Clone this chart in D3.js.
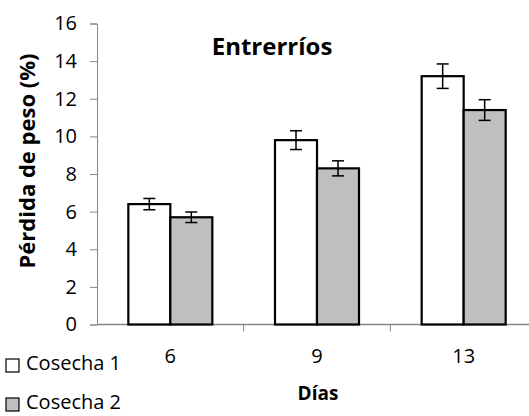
<!DOCTYPE html>
<html>
<head>
<meta charset="utf-8">
<script src="https://cdn.jsdelivr.net/npm/d3@7/dist/d3.min.js"></script>
<style>
  html, body { margin: 0; padding: 0; background: #fff; }
  svg { display: block; font-family: "Open Sans", sans-serif; }
</style>
</head>
<body>
<svg id="chart" width="529" height="416"></svg>
<script>
// Weight loss (%) per storage day, two harvests
const dias = ["6", "9", "13"];
const series = ["Cosecha 1", "Cosecha 2"];
const cosecha1 = [6.4, 9.8, 13.2];
const cosecha2 = [5.7, 8.3, 11.4];
const error1 = [0.3, 0.5, 0.65];
const error2 = [0.28, 0.4, 0.55];
const yTicks = [0, 2, 4, 6, 8, 10, 12, 14, 16];
const fills = ["#ffffff", "#bfbfbf"];

const values = [cosecha1, cosecha2];
const errors = [error1, error2];

const svg = d3.select("#chart");
const axisColor = "#868686";

const y = d3.scaleLinear().domain([0, 16]).range([324.5, 23.5]);
const x0 = d3.scaleBand().domain(dias).range([97, 537])
  .paddingInner(0.4273).paddingOuter(0.2136);
const x1 = d3.scaleBand().domain(series).range([0, x0.bandwidth()]);
const step = x0.step();

// Y axis
const yAxis = svg.append("g").attr("transform", "translate(97,0)")
  .call(d3.axisLeft(y).tickValues(yTicks).tickSize(7).tickPadding(13).tickFormat(d3.format("d")));
yAxis.select(".domain").attr("stroke", axisColor);
yAxis.selectAll(".tick line").attr("stroke", axisColor);
yAxis.selectAll(".tick text").attr("fill", "#000")
  .style("font-size", "20px").style("font-family", "'Open Sans', sans-serif");

// X axis line with category boundary ticks
svg.append("line")
  .attr("x1", 97).attr("x2", 529)
  .attr("y1", y(0)).attr("y2", y(0))
  .attr("stroke", axisColor).attr("stroke-width", 1.5);
svg.selectAll(".xtick").data(dias.slice(1)).enter().append("line")
  .attr("class", "xtick")
  .attr("x1", d => x0(d) - (step - x0.bandwidth()) / 2)
  .attr("x2", d => x0(d) - (step - x0.bandwidth()) / 2)
  .attr("y1", y(0)).attr("y2", y(0) + 7)
  .attr("stroke", axisColor).attr("stroke-width", 1);

// Category labels
svg.selectAll(".xlabel").data(dias).enter().append("text")
  .attr("class", "xlabel")
  .attr("x", d => x0(d) + x0.bandwidth() / 2)
  .attr("y", 363)
  .attr("text-anchor", "middle")
  .style("font-size", "20px")
  .text(d => d);

// Bars
series.forEach((s, si) => {
  svg.selectAll(".bar" + si).data(dias).enter().append("rect")
    .attr("class", "bar" + si)
    .attr("x", d => x0(d) + x1(s))
    .attr("y", (d, i) => y(values[si][i]))
    .attr("width", x1.bandwidth())
    .attr("height", (d, i) => y(0) - y(values[si][i]))
    .attr("fill", fills[si])
    .attr("stroke", "#000")
    .attr("stroke-width", 2.2);
});

// Error bars
series.forEach((s, si) => {
  const g = svg.append("g").attr("stroke", "#000").attr("stroke-width", 1.5);
  dias.forEach((d, i) => {
    const cx = x0(d) + x1(s) + x1.bandwidth() / 2;
    const hi = y(values[si][i] + errors[si][i]);
    const lo = y(values[si][i] - errors[si][i]);
    g.append("line").attr("x1", cx).attr("x2", cx).attr("y1", hi).attr("y2", lo);
    g.append("line").attr("x1", cx - 6).attr("x2", cx + 6).attr("y1", hi).attr("y2", hi);
    g.append("line").attr("x1", cx - 6).attr("x2", cx + 6).attr("y1", lo).attr("y2", lo);
  });
});

// Title
svg.append("text")
  .attr("x", 272).attr("y", 55)
  .attr("text-anchor", "middle")
  .style("font-size", "24px").style("font-weight", "bold")
  .text("Entrerríos");

// Axis titles
svg.append("text")
  .attr("transform", "translate(35,161) rotate(-90)")
  .attr("text-anchor", "middle")
  .style("font-size", "22px").style("font-weight", "bold")
  .text("Pérdida de peso (%)");

svg.append("text")
  .attr("x", 318).attr("y", 400)
  .attr("text-anchor", "middle")
  .style("font-size", "19px").style("font-weight", "bold")
  .text("Días");

// Legend
const legend = svg.selectAll(".legend").data(series).enter().append("g")
  .attr("class", "legend")
  .attr("transform", (d, i) => `translate(6,${359 + i * 39})`);
legend.append("rect")
  .attr("width", 13).attr("height", 13)
  .attr("fill", (d, i) => fills[i])
  .attr("stroke", "#000").attr("stroke-width", 1.2);
legend.append("text")
  .attr("x", 20).attr("y", 11)
  .style("font-size", "20px")
  .text(d => d);
</script>
</body>
</html>
